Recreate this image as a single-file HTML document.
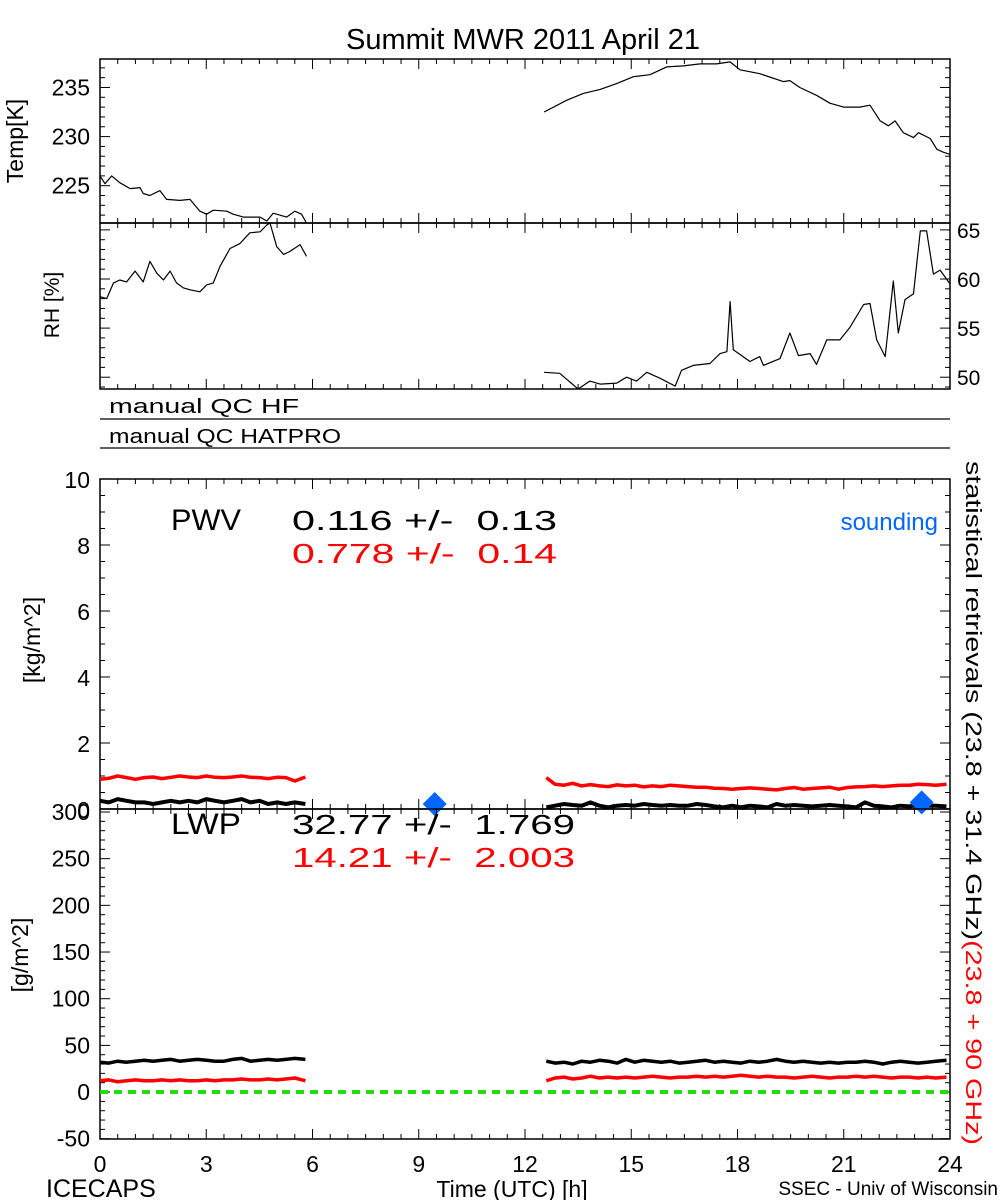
<!DOCTYPE html>
<html><head><meta charset="utf-8"><style>
html,body{margin:0;padding:0;background:#fff;}
svg{display:block;font-family:"Liberation Sans",sans-serif;}
.pre{white-space:pre;}
</style></head><body>
<svg id="chart" width="1000" height="1200" viewBox="0 0 1000 1200" xmlns="http://www.w3.org/2000/svg">
<text x="523" y="49" font-size="29" text-anchor="middle">Summit MWR 2011 April 21</text>
<g id="g"></g>
</svg>
<script>
// ---------- data ----------
const tempSeg1Hours=[0,0.14,0.33,0.56,0.85,1.13,1.22,1.41,1.69,1.88,2.26,2.54,2.82,3.01,3.2,3.58,3.76,4.05,4.52,4.71,4.89,5.27,5.5,5.69,5.83];
const tempSeg1Values=[226.0,225.2,226.0,225.3,224.7,224.8,224.2,224.0,224.5,223.6,223.5,223.6,222.4,222.1,222.5,222.4,222.1,221.8,221.8,221.4,222.2,221.8,222.4,222.1,221.2];
const tempSeg2Hours=[12.54,13.18,13.65,14.12,14.59,15.06,15.53,16.0,16.47,16.94,17.41,17.79,18.07,18.63,19.29,19.48,19.76,20.23,20.61,20.99,21.46,21.74,22.03,22.26,22.45,22.68,22.97,23.11,23.44,23.63,23.82,24.0];
const tempSeg2Values=[232.5,233.7,234.4,234.8,235.4,236.1,236.3,237.1,237.2,237.4,237.4,237.6,236.8,236.4,235.6,235.7,235.0,234.2,233.4,233.0,233.0,233.2,231.6,231.1,231.6,230.4,229.9,230.4,229.8,228.7,228.4,228.2];
const rhSeg1Hours=[0,0.19,0.38,0.56,0.75,0.99,1.22,1.41,1.6,1.79,1.98,2.16,2.35,2.54,2.82,3.01,3.2,3.39,3.67,3.95,4.23,4.52,4.71,4.8,4.99,5.18,5.36,5.65,5.83];
const rhSeg1Values=[58.2,58.0,59.6,59.9,59.7,60.8,59.7,61.8,60.6,59.9,60.8,59.6,59.1,58.9,58.7,59.4,59.6,61.3,63.1,63.6,64.7,64.8,65.5,65.7,63.3,62.5,62.8,63.5,62.3];
const rhSeg2Hours=[12.54,12.98,13.5,13.83,14.12,14.59,14.87,15.15,15.44,15.81,16.24,16.42,16.75,17.22,17.51,17.7,17.79,17.88,18.35,18.63,18.73,19.2,19.48,19.72,20.05,20.23,20.52,20.89,21.18,21.56,21.74,21.93,22.17,22.4,22.54,22.73,22.97,23.16,23.34,23.53,23.72,24.0];
const rhSeg2Values=[50.5,50.4,48.8,49.6,49.3,49.4,50.0,49.6,50.5,49.9,49.1,50.7,51.2,51.4,52.4,52.6,57.7,52.8,51.6,52.1,51.2,51.9,54.5,52.2,52.4,51.3,53.8,53.8,55.1,57.4,57.5,53.8,52.1,59.8,54.5,57.9,58.5,64.9,64.9,60.5,60.9,59.5];
const seg1Start=0, seg2Start=12.6, sampleStep=0.25;
const pwvBlackSeg1=[0.25,0.2,0.3,0.25,0.2,0.2,0.15,0.2,0.25,0.2,0.25,0.2,0.3,0.25,0.2,0.25,0.3,0.2,0.25,0.15,0.2,0.15,0.2,0.15];
const pwvRedSeg1=[0.9,0.93,1.0,0.95,0.9,0.95,0.97,0.92,0.96,1.0,0.97,0.95,1.0,0.96,0.95,0.97,1.0,0.96,0.95,0.92,0.96,0.95,0.85,0.97];
const pwvBlackSeg2=[0.05,0.1,0.15,0.12,0.1,0.2,0.1,0.05,0.1,0.12,0.1,0.15,0.12,0.1,0.12,0.1,0.1,0.15,0.12,0.08,0.05,0.1,0.05,0.1,0.08,0.05,0.15,0.1,0.12,0.1,0.08,0.1,0.12,0.1,0.08,0.05,0.2,0.1,0.08,0.05,0.1,0.08,0.12,0.1,0.1,0.08];
const pwvRedSeg2=[0.95,0.75,0.72,0.78,0.7,0.74,0.7,0.68,0.73,0.7,0.72,0.67,0.7,0.68,0.72,0.7,0.68,0.66,0.66,0.63,0.62,0.6,0.62,0.64,0.62,0.6,0.58,0.62,0.65,0.6,0.62,0.64,0.66,0.6,0.65,0.67,0.68,0.7,0.68,0.7,0.72,0.72,0.75,0.74,0.72,0.75];
const lwpBlackSeg1=[32,31,33,32,33,34,33,34,35,33,34,35,34,33,33,35,36,33,34,35,34,35,36,35];
const lwpRedSeg1=[12,13,11,12,13,12,12,13,12,13,12,12,13,12,13,13,14,13,13,14,13,14,15,12];
const lwpBlackSeg2=[33,31,32,30,33,32,34,33,31,35,32,34,33,32,33,31,32,33,34,32,33,32,31,33,32,33,35,33,32,33,32,31,32,31,32,32,33,32,30,32,33,32,31,32,33,34];
const lwpRedSeg2=[12,15,16,14,15,17,15,16,15,16,15,16,17,16,15,16,16,17,16,17,16,17,18,17,16,17,16,16,15,16,17,16,15,16,16,17,16,17,16,15,16,16,15,16,15,16];
const soundingHours=[9.45,23.2];
const soundingPwv=[0.15,0.2];
const xTickLabels=["0","3","6","9","12","15","18","21","24"];
const tempTickLabels=["225","230","235"];
const rhTickLabels=["50","55","60","65"];
const pwvTickLabels=["0","2","4","6","8","10"];
const lwpTickLabels=["-50","0","50","100","150","200","250","300"];

// ---------- geometry ----------
const X0=100,X1=950;
const xs=h=>X0+(X1-X0)*h/24;
function lin(v0,v1,p0,p1){return v=>p0+(v-v0)*(p1-p0)/(v1-v0);}
const yTemp=lin(221.2,237.9,223,59);
const yRh=lin(48.8,65.7,389,223);
const yPwv=lin(0,10,809,479);
const yLwp=lin(-50.3,300,1139,812);
const NS="http://www.w3.org/2000/svg";
const G=document.getElementById('g');
function el(tag,attrs,parent){const e=document.createElementNS(NS,tag);for(const k in attrs)e.setAttribute(k,attrs[k]);(parent||G).appendChild(e);return e;}
function txt(s,attrs,parent){const e=el('text',attrs,parent);e.textContent=s;return e;}

function frame(name,top,bottom){
  const r=el('rect',{x:X0,y:top,width:X1-X0,height:bottom-top,fill:'none',stroke:'#000','stroke-width':1.5});
  
  
}
function xTicks(top,bottom){
  for(let h=0;h<=24;h+=0.5){
    const major=(h%3===0), len=major?10:5, x=xs(h);
    el('line',{x1:x,x2:x,y1:bottom,y2:bottom-len,stroke:'#000'});
    el('line',{x1:x,x2:x,y1:top,y2:top+len,stroke:'#000'});
  }
}
function yTicks(scale,vmin,vmax,minor,majorVals,side){
  for(let v=vmin;v<=vmax+1e-6;v+=minor){
    const y=scale(v), major=majorVals.includes(+v.toFixed(3)), len=major?10:5;
    if(side!=='right')el('line',{x1:X0,x2:X0+len,y1:y,y2:y,stroke:'#000'});
    if(side!=='left')el('line',{x1:X1,x2:X1-len,y1:y,y2:y,stroke:'#000'});
  }
}
function line(hours,vals,xsf,ys,color,w,name){
  const pts=hours.map((h,i)=>xsf(h).toFixed(1)+','+ys(vals[i]).toFixed(1)).join(' ');
  const p=el('polyline',{points:pts,fill:'none',stroke:color,'stroke-width':w,'stroke-linejoin':'round'});
  
  
}
function sampled(start,vals,ys,color,w,name){
  const hours=vals.map((v,i)=>start+i*sampleStep+(i===vals.length-1?0.05:0));
  line(hours,vals,xs,ys,color,w,name);
}

// temp panel
frame('temp-panel',59,223);
xTicks(59,223);
yTicks(yTemp,222,237,1,[225,230,235],'both');
tempTickLabels.forEach(t=>{const e=txt(t,{x:90,y:yTemp(+t)+8,'font-size':23,'text-anchor':'end'});});
line(tempSeg1Hours,tempSeg1Values,xs,yTemp,'#000',1.2,'temp-line-1');
line(tempSeg2Hours,tempSeg2Values,xs,yTemp,'#000',1.2,'temp-line-2');
{const e=txt('Temp[K]',{x:0,y:0,'font-size':23,'text-anchor':'middle',transform:'translate(23,141) rotate(-90)'});}

// rh panel
frame('rh-panel',223,389);
xTicks(223,389);
yTicks(yRh,49,65,1,[50,55,60,65],'both');
rhTickLabels.forEach(t=>{const e=txt(t,{x:957,y:yRh(+t)+8,'font-size':21});});
line(rhSeg1Hours,rhSeg1Values,xs,yRh,'#000',1.2,'rh-line-1');
line(rhSeg2Hours,rhSeg2Values,xs,yRh,'#000',1.2,'rh-line-2');
{const e=txt('RH [%]',{x:0,y:0,'font-size':21,'text-anchor':'middle',transform:'translate(59,305) rotate(-90)'});}

// QC rows
el('line',{x1:X0,x2:X1,y1:419,y2:419,stroke:'#000','stroke-width':1.2});
el('line',{x1:X0,x2:X1,y1:448,y2:448,stroke:'#000','stroke-width':1.2});
{const e=txt('manual QC HF',{x:109,y:413,'font-size':20,textLength:190,lengthAdjust:'spacingAndGlyphs'});}
{const e=txt('manual QC HATPRO',{x:109,y:443,'font-size':20,textLength:232,lengthAdjust:'spacingAndGlyphs'});}

// PWV panel
frame('pwv-panel',479,809);
xTicks(479,809);
yTicks(yPwv,0,10,0.5,[0,2,4,6,8,10],'both');
pwvTickLabels.forEach(t=>{const e=txt(t,{x:90,y:yPwv(+t)+9,'font-size':23,'text-anchor':'end'});});
sampled(seg1Start,pwvRedSeg1,yPwv,'#f00',3.5,'pwv-red-line-1');
sampled(seg2Start,pwvRedSeg2,yPwv,'#f00',3.5,'pwv-red-line-2');
sampled(seg1Start,pwvBlackSeg1,yPwv,'#000',4,'pwv-black-line-1');
sampled(seg2Start,pwvBlackSeg2,yPwv,'#000',4,'pwv-black-line-2');
soundingHours.forEach((h,i)=>{const x=xs(h),y=yPwv(soundingPwv[i]);const d=el('polygon',{points:`${x},${y-12} ${x+12},${y} ${x},${y+12} ${x-12},${y}`,fill:'#0066ff'});});
{const e=txt('[kg/m^2]',{x:0,y:0,'font-size':23,'text-anchor':'middle',transform:'translate(40,640) rotate(-90)'});}
{const e=txt('PWV',{x:171,y:530,'font-size':30,textLength:70,lengthAdjust:'spacingAndGlyphs'});}
{const e=txt('0.116 +/-  0.13',{x:292,y:530,'font-size':28,'class':'pre',textLength:265,lengthAdjust:'spacingAndGlyphs'});}
{const e=txt('0.778 +/-  0.14',{x:292,y:563,'font-size':28,fill:'#f00','class':'pre',textLength:265,lengthAdjust:'spacingAndGlyphs'});}
{const e=txt('sounding',{x:938,y:530,'font-size':24,fill:'#0066ff','text-anchor':'end'});}

// LWP panel
frame('lwp-panel',809,1139);
xTicks(809,1139);
yTicks(yLwp,-50,300,10,[-50,0,50,100,150,200,250,300],'both');
lwpTickLabels.forEach(t=>{const e=txt(t,{x:90,y:yLwp(+t)+8,'font-size':23,'text-anchor':'end'});});
{const z=el('line',{x1:X0,x2:X1,y1:yLwp(0),y2:yLwp(0),stroke:'#22dd11','stroke-width':4,'stroke-dasharray':'8,6'});}
sampled(seg1Start,lwpBlackSeg1,yLwp,'#000',3.5,'lwp-black-line-1');
sampled(seg2Start,lwpBlackSeg2,yLwp,'#000',3.5,'lwp-black-line-2');
sampled(seg1Start,lwpRedSeg1,yLwp,'#f00',3.5,'lwp-red-line-1');
sampled(seg2Start,lwpRedSeg2,yLwp,'#f00',3.5,'lwp-red-line-2');
{const e=txt('[g/m^2]',{x:0,y:0,'font-size':23,'text-anchor':'middle',transform:'translate(28,955) rotate(-90)'});}
{const e=txt('LWP',{x:171,y:834,'font-size':30,textLength:70,lengthAdjust:'spacingAndGlyphs'});}
{const e=txt('32.77 +/-  1.769',{x:292,y:834,'font-size':28,'class':'pre',textLength:283,lengthAdjust:'spacingAndGlyphs'});}
{const e=txt('14.21 +/-  2.003',{x:292,y:867,'font-size':28,fill:'#f00','class':'pre',textLength:283,lengthAdjust:'spacingAndGlyphs'});}

// x axis labels
xTickLabels.forEach(t=>{const e=txt(t,{x:xs(+t),y:1172,'font-size':23,'text-anchor':'middle'});});
{const e=txt('Time (UTC) [h]',{x:512,y:1197,'font-size':23,'text-anchor':'middle'});}
{const e=txt('ICECAPS',{x:46,y:1197,'font-size':25});}
{const e=txt('SSEC - Univ of Wisconsin',{x:998,y:1195,'font-size':19,'text-anchor':'end'});}

// right rotated label
{const t=el('text',{x:0,y:0,'font-size':22,transform:'translate(966,461) rotate(90)'});
 
 
 const a=el('tspan',{},t);a.textContent='statistical retrievals (23.8 + 31.4 GHz)';
 const b=el('tspan',{fill:'#f00'},t);b.textContent='(23.8 + 90 GHz)';
 t.setAttribute('textLength','684');t.setAttribute('lengthAdjust','spacingAndGlyphs');}
</script>
</body></html>
